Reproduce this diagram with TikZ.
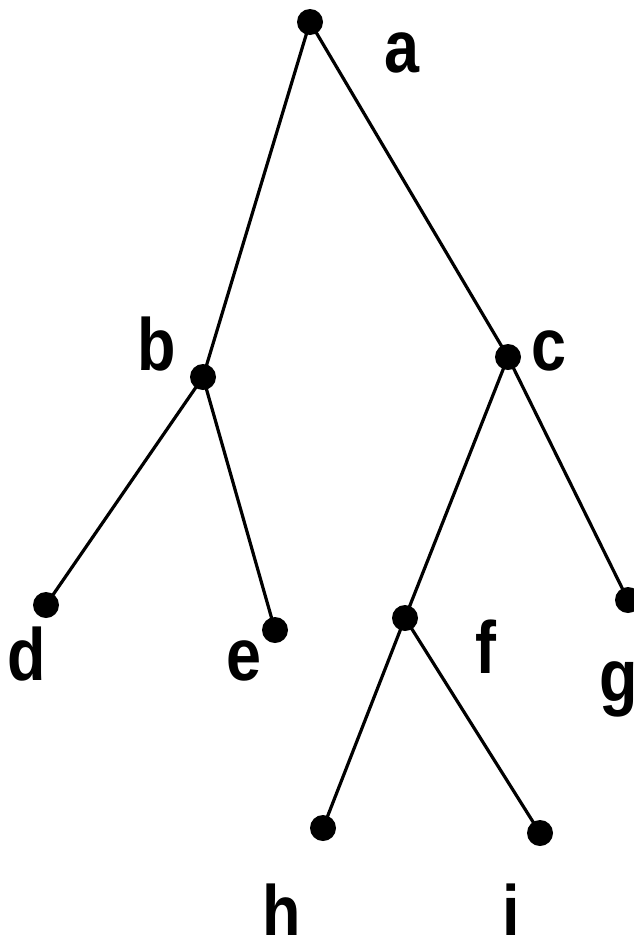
\documentclass[tikz,border=0pt]{standalone}
\usepackage{fontspec}
\usepackage{graphicx}
\newfontfamily\labfont{Liberation Sans}[BoldFont={* Bold}]
\tikzset{
  vertex/.style={circle, fill=black, inner sep=0pt, minimum size=26pt},
  edge/.style={line width=3.2pt, black},
  lab/.style={anchor=base, inner sep=0pt, font=\labfont\bfseries\fontsize{74}{74}\selectfont}
}
\newcommand{\lt}[1]{\scalebox{0.85}[1]{#1}}
\begin{document}
\begin{tikzpicture}[x=1pt,y=-1pt]
\useasboundingbox (0,0) rectangle (634,935);
\fill[white] (0,0) rectangle (634,935);
\node[vertex] (a) at (310,22) {};
\node[vertex] (b) at (203,377) {};
\node[vertex] (c) at (508,357) {};
\node[vertex] (d) at (46,605) {};
\node[vertex] (e) at (275,630) {};
\node[vertex] (f) at (405,618) {};
\node[vertex] (g) at (628,600) {};
\node[vertex] (h) at (323,828) {};
\node[vertex] (i) at (540,833) {};
\draw[edge] (a.center) -- (b.center);
\draw[edge] (a.center) -- (c.center);
\draw[edge] (b.center) -- (d.center);
\draw[edge] (b.center) -- (e.center);
\draw[edge] (c.center) -- (f.center);
\draw[edge] (c.center) -- (g.center);
\draw[edge] (f.center) -- (h.center);
\draw[edge] (f.center) -- (i.center);
\node[lab] (la) at (402,72) {\lt{a}};
\node[lab] (lb) at (157,370) {\lt{b}};
\node[lab] (lc) at (549,370) {\lt{c}};
\node[lab] (ld) at (27,680) {\lt{d}};
\node[lab] (le) at (244,680) {\lt{e}};
\node[lab] (lf) at (486,673) {\lt{f}};
\node[lab] (lg) at (619,701) {\lt{g}};
\node[lab] (lh) at (282,937) {\lt{h}};
\node[lab] (li) at (511,937) {\lt{i}};
\end{tikzpicture}
\end{document}
